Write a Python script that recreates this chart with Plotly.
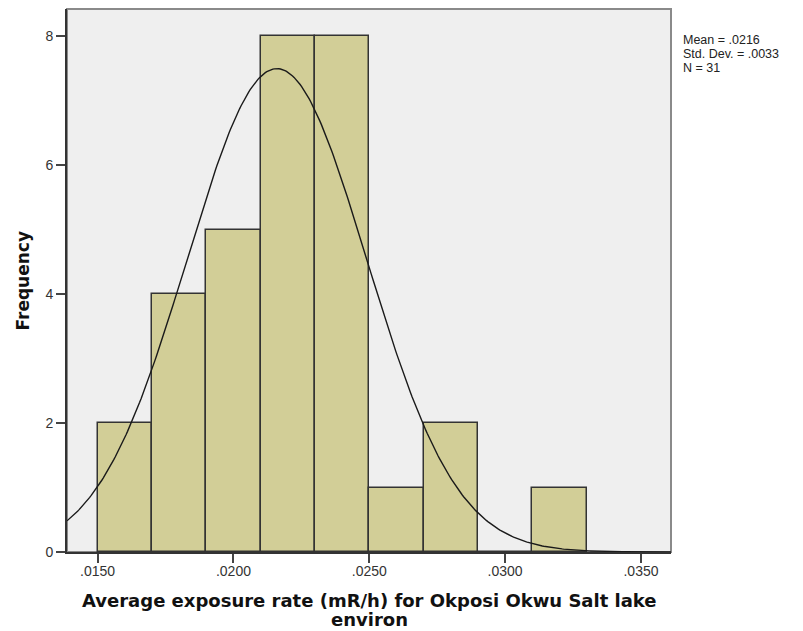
import numpy as np
import plotly.graph_objects as go

# Histogram data (bin edges in mR/h, counts)
bin_left = [0.015, 0.017, 0.019, 0.021, 0.023, 0.025, 0.027, 0.029, 0.031]
counts = [2, 4, 5, 8, 8, 1, 2, 0, 1]
bin_width = 0.002

# Summary statistics shown in the chart
mean_val = 0.0216
std_val = 0.0033
n_val = 31
stat_lines = ["Mean = .0216", "Std. Dev. = .0033", "N = 31"]

x_range = [0.013873, 0.036105]
y_range = [0, 8.42]
x_tickvals = [0.015, 0.020, 0.025, 0.030, 0.035]
x_ticktext = [".0150", ".0200", ".0250", ".0300", ".0350"]
y_tickvals = [0, 2, 4, 6, 8]

x_title_lines = ["Average exposure rate (mR/h) for Okposi Okwu Salt lake", "environ"]
y_title = "Frequency"

centers = [b + bin_width / 2 for b in bin_left]

# normal curve scaled to the histogram
xc = np.linspace(x_range[0], x_range[1], 400)
yc = n_val * bin_width / (std_val * np.sqrt(2 * np.pi)) * np.exp(-0.5 * ((xc - mean_val) / std_val) ** 2)

fig = go.Figure()
fig.add_trace(go.Bar(
    x=centers, y=counts, width=[bin_width] * len(counts),
    marker=dict(color="#d2ce97", line=dict(color="#333333", width=1.5)),
    hoverinfo="skip", showlegend=False,
))
fig.add_trace(go.Scatter(
    x=xc, y=yc, mode="lines", line=dict(color="#1a1a1a", width=1.4),
    hoverinfo="skip", showlegend=False,
))

annotations = []
for i, t in enumerate(stat_lines):
    annotations.append(dict(
        xref="paper", yref="paper", x=1, y=1, xanchor="left", yanchor="middle",
        xshift=10, yshift=-31 - 14 * i, showarrow=False, text=t,
        font=dict(family="Liberation Sans, Arial, sans-serif", size=12.5, color="#222222"),
    ))
for i, t in enumerate(x_title_lines):
    annotations.append(dict(
        xref="paper", yref="paper", x=0.5, y=0, xanchor="center", yanchor="middle",
        yshift=-48 - 19 * i, showarrow=False, text="<b>" + t + "</b>",
        font=dict(family="DejaVu Sans, Verdana, sans-serif", size=18, color="#111111"),
    ))
annotations.append(dict(
    xref="paper", yref="paper", x=0, y=0.5, xanchor="center", yanchor="middle",
    xshift=-45, textangle=-90, showarrow=False, text="<b>" + y_title + "</b>",
    font=dict(family="DejaVu Sans, Verdana, sans-serif", size=17, color="#111111"),
))

fig.update_layout(
    width=795, height=623,
    margin=dict(l=59, r=132, t=1, b=79),
    paper_bgcolor="white", plot_bgcolor="#efefef",
    bargap=0,
    font=dict(family="Liberation Sans, Arial, sans-serif", color="#333333"),
    annotations=annotations,
    shapes=[dict(type="rect", xref="paper", yref="paper", x0=0, x1=1, y0=0, y1=1,
                 line=dict(color="#8a8a8a", width=2), layer="below")],
)
fig.update_xaxes(
    range=x_range, tickvals=x_tickvals, ticktext=x_ticktext,
    showgrid=False, zeroline=False,
    ticks="outside", ticklen=9, tickwidth=1.5, tickcolor="#444444",
    tickfont=dict(size=14, color="#333333"), ticklabelstandoff=-4,
    showline=True, linecolor="#333333", linewidth=2,
)
fig.update_yaxes(
    range=y_range, tickvals=y_tickvals,
    showgrid=False, zeroline=False,
    ticks="outside", ticklen=9, tickwidth=1.5, tickcolor="#444444",
    tickfont=dict(size=14, color="#333333"),
    showline=True, linecolor="#333333", linewidth=2,
)

fig.write_html("out.html")
